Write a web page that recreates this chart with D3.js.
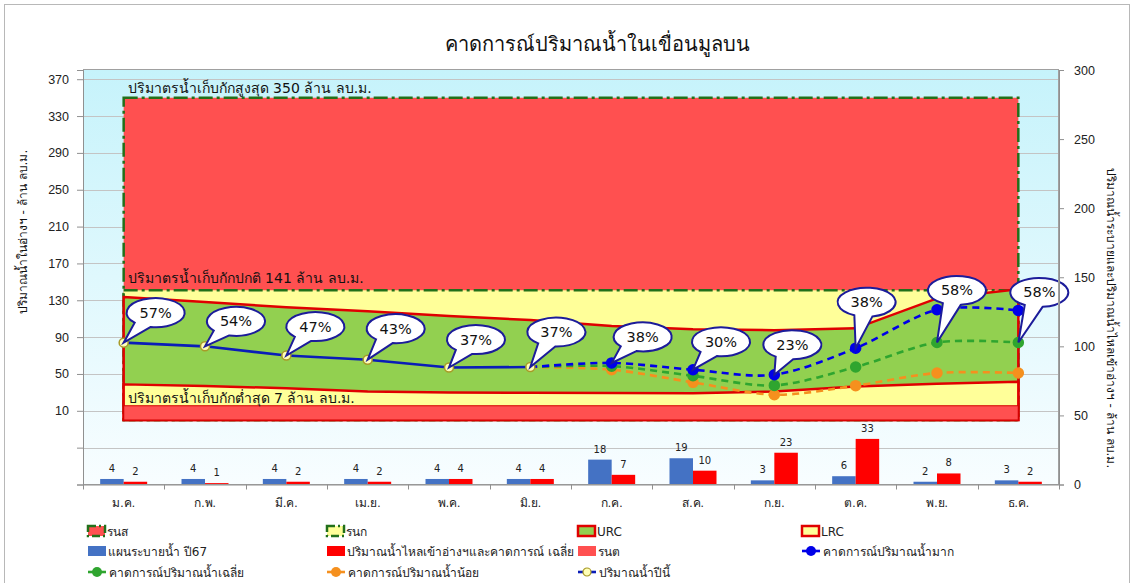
<!DOCTYPE html>
<html><head><meta charset="utf-8">
<script src="https://cdn.jsdelivr.net/npm/d3@7"></script>
<style>
html,body{margin:0;padding:0;background:#fff;}
svg{display:block;font-family:Tahoma,"DejaVu Sans","Noto Sans",sans-serif;}
</style></head><body>
<svg id="chart" width="1134" height="583"></svg>
<script>
// ---------------- data ----------------
const months = ["ม.ค.","ก.พ.","มี.ค.","เม.ย.","พ.ค.","มิ.ย.","ก.ค.","ส.ค.","ก.ย.","ต.ค.","พ.ย.","ธ.ค."];
const maxStorage    = [350,350,350,350,350,350,350,350,350,350,350,350];
const normalStorage = [141,141,141,141,141,141,141,141,141,141,141,141];
const urc = [133.5,128,122.5,118,113,108.5,102,98.5,97.5,99.5,132,142];
const lrc = [38.7,37,34.5,31,30,29.5,29.3,29,31,36.5,39.5,41.5];
const minStorage = [15.5,15.5,15.5,15.5,15.5,15.5,15.5,15.5,15.5,15.5,15.5,15.5];
const thisYear     = [84,80,70,65.5,57,57.5,null,null,null,null,null,null];
const forecastHigh = [null,null,null,null,null,57.5,62,54.6,49.2,78,119.7,119];
const forecastAvg  = [null,null,null,null,null,57.5,58.5,48,37.6,57.5,84.2,84.2];
const forecastLow  = [null,null,null,null,null,57.5,54.6,40.9,27.5,37.3,51.1,51.1];
const releasePlan = [4,4,4,4,4,4,18,19,3,6,2,3];
const inflowAvg   = [2,1,2,2,4,4,7,10,23,33,8,2];
const pctLabels = ["57%","54%","47%","43%","37%","37%","38%","30%","23%","38%","58%","58%"];
const pctSource = ["now","now","now","now","now","now","high","high","high","high","avg","avg"];
const leftTicks = [-70,-30,10,50,90,130,170,210,250,290,330,370];
const leftTickLabels = ["","","10","50","90","130","170","210","250","290","330","370"];
const rightTicks = [0,50,100,150,200,250,300];
const levelNotes = ["ปริมาตรน้ำเก็บกักสูงสุด 350 ล้าน ลบ.ม.","ปริมาตรน้ำเก็บกักปกติ 141 ล้าน ลบ.ม.","ปริมาตรน้ำเก็บกักต่ำสุด 7 ล้าน ลบ.ม."];
const titleText = "คาดการณ์ปริมาณน้ำในเขื่อนมูลบน";
const leftTitle = "ปริมาณน้ำในอ่างฯ - ล้าน ลบ.ม.";
const rightTitle = "ปริมาณน้ำระบายและปริมาณน้ำไหลเข้าอ่างฯ - ล้าน ลบ.ม.";
const legendRows = [
  [["รนส","maxArea"],["รนก","normArea"],["URC","urc"],["LRC","lrc"]],
  [["แผนระบายน้ำ ปี67","barBlue"],["ปริมาณน้ำไหลเข้าอ่างฯและคาดการณ์ เฉลี่ย","barRed"],["รนต","minArea"],["คาดการณ์ปริมาณน้ำมาก","high"]],
  [["คาดการณ์ปริมาณน้ำเฉลี่ย","avg"],["คาดการณ์ปริมาณน้ำน้อย","low"],["ปริมาณน้ำปีนี้","now"]]
];

// ---------------- layout / styles ----------------
const W = 1134, H = 583;
const P = {l:83, r:1059, t:70, b:484.5};
const C = {
  red:"#ff5050", yellow:"#ffff99", green:"#92d050", rcBorder:"#e00000", dashGreen:"#22701a",
  blueBar:"#4472c4", redBar:"#ff0000", now:"#0a1db8", high:"#0000e8", avg:"#2fa52f", low:"#f5901e",
  navy:"#1c1c9a"
};
const calloutOffset = [[32,-30],[31,-25],[29,-29],[28,-31],[27,-28],[26,-35],[31,-26],[28,-28],[18,-30],[11,-46],[20,-52],[21,-50]];

const svg = d3.select("#chart");
svg.append("rect").attr("width",W).attr("height",H).attr("fill","#fff");
svg.append("rect").attr("x",4.5).attr("y",4.5).attr("width",W-9).attr("height",H+20)
  .attr("fill","none").attr("stroke","#b8b8b8");

const defs = svg.append("defs");
const grad = defs.append("linearGradient").attr("id","bg").attr("x1",0).attr("y1",0).attr("x2",0).attr("y2",1);
grad.append("stop").attr("offset","0%").attr("stop-color","#c6f3fb");
grad.append("stop").attr("offset","100%").attr("stop-color","#f8fdff");

const x = d3.scaleBand().domain(months).range([P.l,P.r]).padding(0);
const cx = i => x(months[i]) + x.bandwidth()/2;
const yL = d3.scaleLinear().domain([-70,380]).range([P.b,P.t]);
const yR = d3.scaleLinear().domain([0,300]).range([P.b,P.t]);

// plot background
svg.append("rect").attr("x",P.l).attr("y",P.t).attr("width",P.r-P.l).attr("height",P.b-P.t)
  .attr("fill","url(#bg)");
// gridlines
svg.append("g").selectAll("line").data(leftTicks.slice(1)).join("line")
  .attr("x1",P.l).attr("x2",P.r).attr("y1",d=>Math.round(yL(d))+0.5).attr("y2",d=>Math.round(yL(d))+0.5)
  .attr("stroke","#c4c4c4").attr("stroke-width",1);

// areas
const area = d3.area().x((d,i)=>cx(i)).y0(yL(0)).y1(d=>yL(d));
function drawArea(data, fill, stroke, sw, dash){
  svg.append("path").datum(data).attr("d",area)
    .attr("fill",fill).attr("stroke",stroke).attr("stroke-width",sw)
    .attr("stroke-dasharray",dash||null).attr("stroke-linejoin","miter");
}
drawArea(maxStorage, C.red, C.dashGreen, 2.5, "14,4,3,4");
drawArea(normalStorage, C.yellow, C.dashGreen, 2.5, "14,4,3,4");
drawArea(urc, C.green, C.rcBorder, 2.5);
drawArea(lrc, C.yellow, C.rcBorder, 2.5);
drawArea(minStorage, C.red, "#d40000", 1.2);

// level notes
const noteVals = [maxStorage[0], normalStorage[0], minStorage[0]];
const noteDy = [-5, -7, -3];
svg.append("g").selectAll("text").data(levelNotes).join("text")
  .attr("x",cx(0)+4).attr("y",(d,i)=>yL(noteVals[i])+noteDy[i])
  .attr("font-size",14).attr("fill","#111").text(d=>d);

// bars
const bw = 23.5;
const bars = svg.append("g");
months.forEach((m,i)=>{
  [[releasePlan[i],C.blueBar,-bw],[inflowAvg[i],C.redBar,0]].forEach(([v,col,off])=>{
    bars.append("rect").attr("x",cx(i)+off).attr("y",yR(v)).attr("width",bw)
      .attr("height",yR(0)-yR(v)).attr("fill",col);
    bars.append("text").attr("x",cx(i)+off+bw/2).attr("y",yR(v)-7)
      .attr("text-anchor","middle").attr("font-size",10).attr("fill","#222").text(v);
  });
});

// lines
const curve = d3.curveCardinal.tension(0.1);
function drawLine(data, color, dash, curveType){
  const line = d3.line().defined(d=>d!=null).x((d,i)=>cx(i)).y(d=>yL(d)).curve(curveType);
  svg.append("path").datum(data).attr("d",line).attr("fill","none")
    .attr("stroke",color).attr("stroke-width",2.6).attr("stroke-dasharray",dash||null);
}
drawLine(forecastLow, C.low, "7,5", curve);
drawLine(forecastAvg, C.avg, "7,5", curve);
drawLine(forecastHigh, C.high, "7,5", curve);
drawLine(thisYear, C.now, null, d3.curveLinear);
function drawMarkers(data, fill, stroke, r, from){
  svg.append("g").selectAll("circle").data(data.map((v,i)=>({v,i})).filter(d=>d.v!=null && d.i>=from))
    .join("circle").attr("cx",d=>cx(d.i)).attr("cy",d=>yL(d.v)).attr("r",r)
    .attr("fill",fill).attr("stroke",stroke).attr("stroke-width",1.5);
}
drawMarkers(forecastLow, C.low, C.low, 5, 6);
drawMarkers(forecastAvg, C.avg, C.avg, 5, 6);
drawMarkers(forecastHigh, C.high, C.high, 5, 6);
drawMarkers(thisYear, "#ffffb8", "#a89a28", 4.5, 0);

// callouts
const srcMap = {now:thisYear, high:forecastHigh, avg:forecastAvg};
const rx = 29, ry = 14.5;
const cg = svg.append("g");
pctLabels.forEach((lab,i)=>{
  const tx = cx(i), ty = yL(srcMap[pctSource[i]][i]);
  const ex = tx + calloutOffset[i][0], ey = ty + calloutOffset[i][1];
  const th = Math.atan2((ty-ey)/ry, (tx-ex)/rx);
  const d = 0.32;
  const b1 = [ex+rx*Math.cos(th-d), ey+ry*Math.sin(th-d)];
  const b2 = [ex+rx*Math.cos(th+d), ey+ry*Math.sin(th+d)];
  const p = `M${b1[0]},${b1[1]}L${tx},${ty}L${b2[0]},${b2[1]}A${rx},${ry} 0 1 1 ${b1[0]},${b1[1]}Z`;
  cg.append("path").attr("d",p).attr("fill","#fff").attr("stroke",C.navy).attr("stroke-width",2).attr("stroke-linejoin","miter");
  cg.append("text").attr("x",ex).attr("y",ey+5).attr("text-anchor","middle")
    .attr("font-size",14.5).attr("fill","#111").text(lab);
});

// plot border
svg.append("rect").attr("x",P.l+0.5).attr("y",P.t-0.5).attr("width",P.r-P.l-1).attr("height",P.b-P.t+0.5)
  .attr("fill","none").attr("stroke","#a0a0a0");

// axes
const axL = svg.append("g").attr("transform",`translate(${P.l},0)`)
  .call(d3.axisLeft(yL).tickValues(leftTicks).tickFormat((d,i)=>leftTickLabels[i]).tickSize(6).tickPadding(8));
const axR = svg.append("g").attr("transform",`translate(${P.r},0)`)
  .call(d3.axisRight(yR).tickValues(rightTicks).tickSize(5).tickPadding(10));
const axB = svg.append("g").attr("transform",`translate(0,${P.b})`)
  .call(d3.axisBottom(x).tickSize(0).tickPadding(14));
[axL,axR,axB].forEach(a=>{
  a.select(".domain").attr("stroke","#909090");
  a.selectAll(".tick line").attr("stroke","#909090");
  a.selectAll("text").attr("font-size",12.5).attr("fill","#222").attr("font-family",null);
});
axB.selectAll("text").attr("font-size",12);
// category boundary ticks
svg.append("g").selectAll("line").data(d3.range(months.length+1)).join("line")
  .attr("x1",i=>Math.round(P.l + i*x.bandwidth())+0.5).attr("x2",i=>Math.round(P.l + i*x.bandwidth())+0.5)
  .attr("y1",P.b).attr("y2",P.b+5).attr("stroke","#909090");

// axis titles
svg.append("text").attr("transform","translate(27,232) rotate(-90)").attr("text-anchor","middle")
  .attr("font-size",12).attr("fill","#111").text(leftTitle);
svg.append("text").attr("transform","translate(1107,318) rotate(90)").attr("text-anchor","middle")
  .attr("font-size",12).attr("fill","#111").text(rightTitle);

// title
svg.append("text").attr("x",597).attr("y",51).attr("text-anchor","middle")
  .attr("font-size",20).attr("fill","#111").text(titleText);

// legend
const colX = [88,327,578,802], rowY = [531,551,572];
const lg = svg.append("g");
legendRows.forEach((row,r)=>row.forEach(([name,type],c)=>{
  const gx = colX[c], gy = rowY[r];
  const g = lg.append("g").attr("transform",`translate(${gx},${gy})`);
  if(type==="maxArea"||type==="normArea"){
    g.append("rect").attr("x",0).attr("y",-5).attr("width",17).attr("height",10)
      .attr("fill",type==="maxArea"?C.red:C.yellow).attr("stroke",C.dashGreen).attr("stroke-width",2.5).attr("stroke-dasharray","8,3,2,3");
  } else if(type==="urc"||type==="lrc"){
    g.append("rect").attr("x",0).attr("y",-5).attr("width",17).attr("height",10)
      .attr("fill",type==="urc"?C.green:C.yellow).attr("stroke",C.rcBorder).attr("stroke-width",2.5);
  } else if(type==="barBlue"||type==="barRed"||type==="minArea"){
    g.append("rect").attr("x",0).attr("y",-5).attr("width",18).attr("height",10)
      .attr("fill",type==="barBlue"?C.blueBar:type==="barRed"?C.redBar:C.red);
  } else {
    const col = C[type];
    g.append("line").attr("x1",0).attr("x2",18).attr("y1",0).attr("y2",0).attr("stroke",col).attr("stroke-width",2.6);
    if(type==="now") g.append("circle").attr("cx",9).attr("cy",0).attr("r",4).attr("fill","#ffffb8").attr("stroke","#a89a28").attr("stroke-width",1.2);
    else g.append("circle").attr("cx",9).attr("cy",0).attr("r",5).attr("fill",col);
  }
  g.append("text").attr("x",type.startsWith("bar")||type==="minArea"?20:(["high","avg","low","now"].includes(type)?21:19))
    .attr("y",4.5).attr("font-size",12).attr("fill","#222").text(name);
}));
</script>
</body></html>
